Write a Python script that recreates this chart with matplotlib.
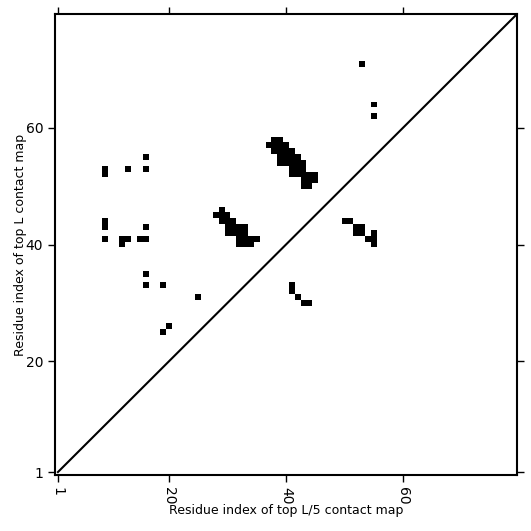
import numpy as np
import matplotlib
matplotlib.use('Agg')
import matplotlib.pyplot as plt

L = 79

# contacts above the diagonal (top L), as (i, j) residue pairs
top_L_i = [53, 55, 55, 9, 9, 13, 16, 16, 9, 9, 16, 9, 12, 13, 12, 15, 16,
           16, 16, 19, 25, 20, 19,
           29, 28, 29, 30, 29, 30, 31, 30, 31, 32, 33, 30, 31, 32, 33,
           32, 33, 34, 35, 32, 33, 34,
           38, 39, 37, 38, 39, 40, 38, 39, 40, 41, 39, 40, 41, 42,
           39, 40, 41, 42, 43, 41, 42, 43, 41, 42, 43, 44, 45, 43, 44, 45, 43, 44]
top_L_j = [71, 64, 62, 53, 52, 53, 55, 53, 44, 43, 43, 41, 41, 41, 40, 41, 41,
           35, 33, 33, 31, 26, 25,
           46, 45, 45, 45, 44, 44, 44, 43, 43, 43, 43, 42, 42, 42, 42,
           41, 41, 41, 41, 40, 40, 40,
           58, 58, 57, 57, 57, 57, 56, 56, 56, 56, 55, 55, 55, 55,
           54, 54, 54, 54, 54, 53, 53, 53, 52, 52, 52, 52, 52, 51, 51, 51, 50, 50]

# contacts below the diagonal (top L/5)
top_L5_i = [50, 51, 52, 53, 52, 53, 55, 54, 55, 55, 41, 41, 42, 43, 44]
top_L5_j = [44, 44, 43, 43, 42, 42, 42, 41, 41, 40, 33, 32, 31, 30, 30]

cmap = np.zeros((L, L))
for i, j in zip(top_L_i, top_L_j):
    cmap[j-1, i-1] = 1
for i, j in zip(top_L5_i, top_L5_j):
    cmap[j-1, i-1] = 1

fig = plt.figure(figsize=(5.31, 5.31), dpi=100)
ax = fig.add_axes([0.1036, 0.1055, 0.870, 0.868])
ax.imshow(cmap, cmap='Greys', vmin=0, vmax=1, origin='lower',
          extent=(0.5, L+0.5, 0.5, L+0.5), interpolation='nearest', aspect='auto')
ax.plot([1, L+1], [1, L+1], 'k-', lw=1.5)
ax.set_xlim(0.5, L+0.5)
ax.set_ylim(0.5, L+0.5)

ticks = [1, 20, 40, 60]
ax.set_xticks(ticks)
ax.set_yticks(ticks)
ax.set_xticklabels([str(t) for t in ticks], rotation=270)
ax.tick_params(direction='out', top=True, right=True, length=5, width=1, labelsize=10)
for s in ax.spines.values():
    s.set_linewidth(1.5)
ax.set_xlabel('Residue index of top L/5 contact map', fontsize=9, labelpad=0)
ax.set_ylabel('Residue index of top L contact map', fontsize=9, labelpad=-1)

fig.savefig('out.png', dpi=100)
